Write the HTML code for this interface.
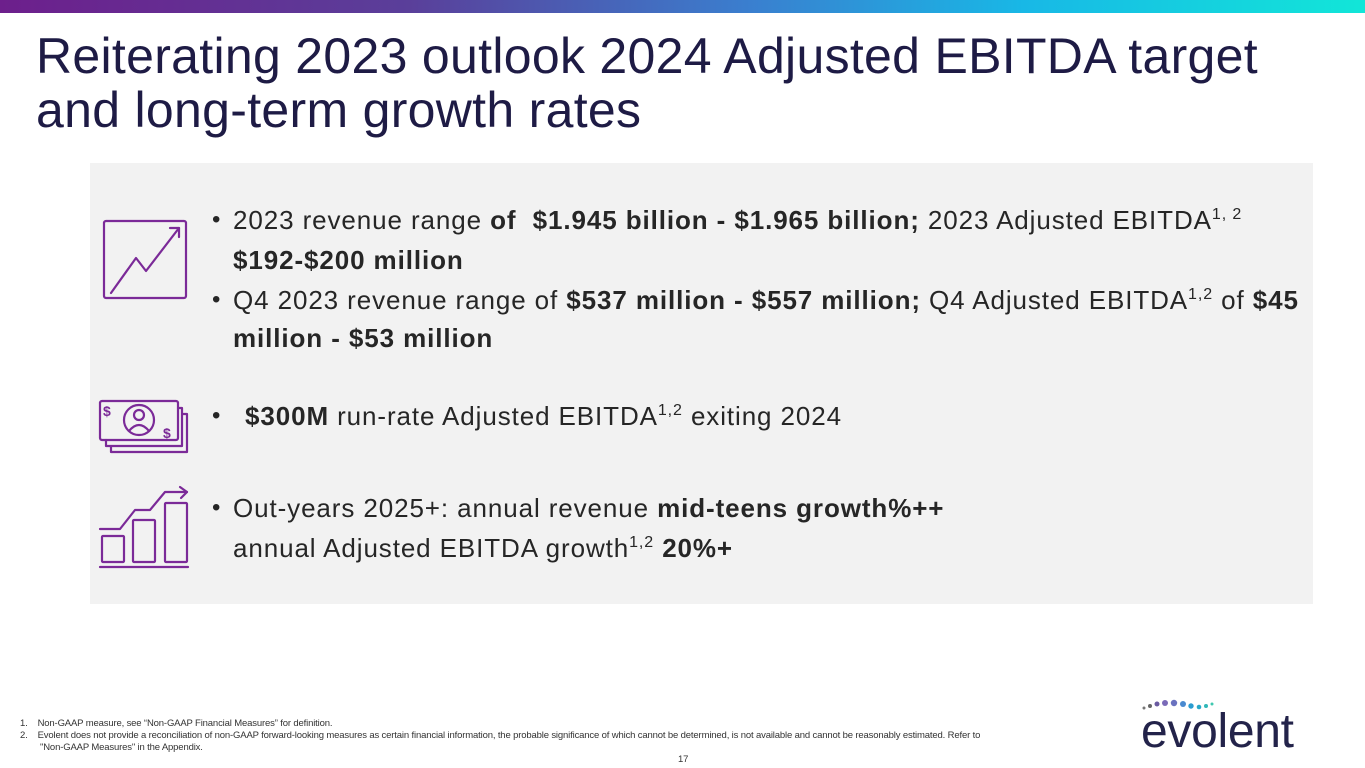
<!DOCTYPE html>
<html><head><meta charset="utf-8"><style>
body{margin:0;width:1365px;height:768px;position:relative;overflow:hidden;background:#fff;font-family:"Liberation Sans",sans-serif;}
.bar{position:absolute;left:0;top:0;width:1365px;height:13px;background:linear-gradient(90deg,#6d1f8c 0%,#5a3f9a 30%,#3a7fcf 55%,#18b8e6 75%,#12e6d8 100%);}
h1{position:absolute;left:36px;top:29px;margin:0;font-weight:normal;font-size:50px;line-height:54px;color:#1e1b45;letter-spacing:0.3px;}
.box{position:absolute;left:90px;top:163px;width:1223px;height:441px;background:#f2f2f2;}
.ln{position:absolute;left:233px;font-size:26px;color:#262626;white-space:nowrap;letter-spacing:0.9px;}
.bl{position:absolute;left:212px;font-size:24px;color:#262626;}
sup{font-size:16px;vertical-align:10px;line-height:0;}
.fn{position:absolute;font-size:9.5px;color:#333;white-space:nowrap;letter-spacing:-0.15px;}
.logo{position:absolute;left:1141px;top:704px;font-size:48px;color:#23234a;letter-spacing:-0.3px;}
</style></head><body>
<div class="bar"></div>
<h1>Reiterating 2023 outlook 2024 Adjusted EBITDA target<br>and long-term growth rates</h1>
<div class="box"></div>
<svg style="position:absolute;left:90px;top:190px" width="120" height="380">
<g fill="none" stroke="#7b2a98" stroke-width="2.2" stroke-linejoin="round" stroke-linecap="round">
<rect x="14" y="31" width="82" height="77" rx="2"/>
<polyline points="21,103 46,68 56,81 89,38"/><polyline points="80,38 89,38 89,47"/>
<rect x="10" y="211" width="78" height="39" rx="2"/>
<path d="M88,218 h4 v38 h-76 v-6 M92,224 h5 v38 h-76 v-6"/>
<circle cx="49" cy="230" r="15"/><circle cx="49" cy="225" r="5"/><path d="M39,241 q10,-12 20,0"/>
<rect x="12" y="346" width="22" height="26" rx="1"/><rect x="43" y="330" width="22" height="42" rx="1"/><rect x="75" y="313" width="22" height="59" rx="1"/>
<polyline points="10,339 30,339 45,320 60,320 75,302 97,302"/><polyline points="90,297 97,302 91,308"/>
<line x1="10" y1="377" x2="98" y2="377"/>
</g>
<text x="13" y="226" font-size="14" font-weight="bold" fill="#7b2a98" font-family="Liberation Sans">$</text>
<text x="73" y="248" font-size="14" font-weight="bold" fill="#7b2a98" font-family="Liberation Sans">$</text>
</svg>
<div class="bl" style="top:206px">•</div>
<div class="ln" style="top:205px">2023 revenue range <b>of &nbsp;$1.945 billion - $1.965 billion;</b> 2023 Adjusted EBITDA<sup>1, 2</sup></div>
<div class="ln" style="top:245px"><b>$192-$200 million</b></div>
<div class="bl" style="top:286px">•</div>
<div class="ln" style="top:285px">Q4 2023 revenue range of <b>$537 million - $557 million;</b> Q4 Adjusted EBITDA<sup>1,2</sup> of <b>$45</b></div>
<div class="ln" style="top:323px"><b>million - $53 million</b></div>
<div class="bl" style="top:402px">•</div>
<div class="ln" style="top:401px;left:245px"><b>$300M</b> run-rate Adjusted EBITDA<sup>1,2</sup> exiting 2024</div>
<div class="bl" style="top:494px">•</div>
<div class="ln" style="top:493px">Out-years 2025+: annual revenue <b>mid-teens growth%++</b></div>
<div class="ln" style="top:533px">annual Adjusted EBITDA growth<sup>1,2</sup> <b>20%+</b></div>
<div class="fn" style="left:20px;top:718px">1.&nbsp;&nbsp;&nbsp;&nbsp;Non-GAAP measure, see “Non-GAAP Financial Measures” for definition.</div>
<div class="fn" style="left:20px;top:730px">2.&nbsp;&nbsp;&nbsp;&nbsp;Evolent does not provide a reconciliation of non-GAAP forward-looking measures as certain financial information, the probable significance of which cannot be determined, is not available and cannot be reasonably estimated. Refer to</div>
<div class="fn" style="left:40px;top:742px">"Non-GAAP Measures" in the Appendix.</div>
<div class="fn" style="left:678px;top:754px">17</div>
<svg style="position:absolute;left:1140px;top:697px" width="100" height="16">
<circle cx="4" cy="11" r="1.5" fill="#777"/><circle cx="10" cy="9" r="2" fill="#666"/><circle cx="17" cy="7" r="2.5" fill="#6a5aa0"/><circle cx="25" cy="6" r="3" fill="#7a6ab8"/><circle cx="34" cy="6" r="3.2" fill="#6a72c0"/><circle cx="43" cy="7" r="3" fill="#4a8ad0"/><circle cx="51" cy="9" r="2.7" fill="#2a9cd0"/><circle cx="59" cy="10" r="2.3" fill="#28a8c8"/><circle cx="66" cy="9" r="2" fill="#30b8b8"/><circle cx="72" cy="7" r="1.5" fill="#40c8b0"/>
</svg>
<div class="logo">evolent</div>
</body></html>
